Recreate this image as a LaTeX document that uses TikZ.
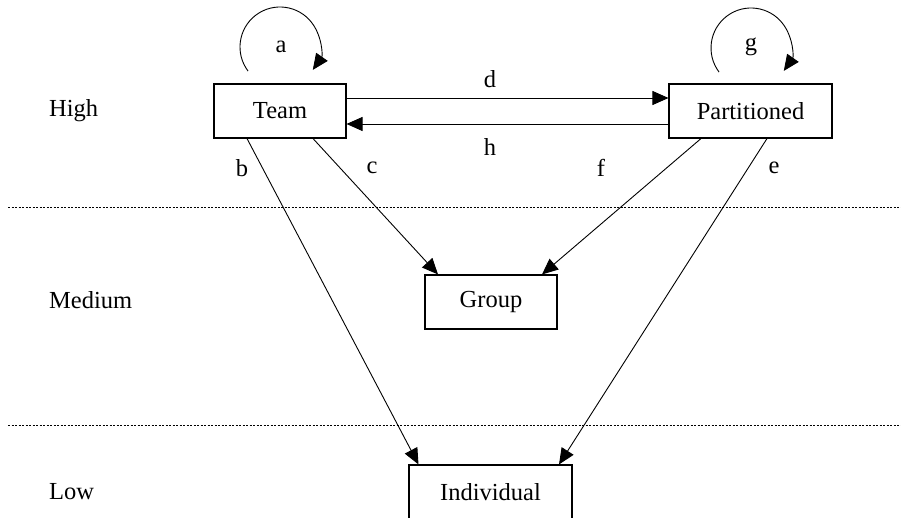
\documentclass[tikz,border=0pt]{standalone}
\usepackage{fontspec}
\setmainfont{Liberation Serif}
\usetikzlibrary{arrows.meta}

\begin{document}
\begin{tikzpicture}[x=1pt, y=1pt,
    font=\fontsize{24.5}{28}\selectfont,
    box/.style={draw, line width=1.1pt, minimum height=54pt, inner sep=0pt},
    arr/.style={line width=0.9pt, -{Triangle[length=16pt, width=14pt]}},
    level/.style={draw, line width=1pt, dash pattern=on 2pt off 1.5pt}]
    \useasboundingbox (0,0) rectangle (901,517);
    % levels
    \draw[level] (8,309) -- (901,309);
    \draw[level] (8,92) -- (901,92);
    \node[anchor=west, inner xsep=0pt] (high) at (49,406) {High};
    \node[anchor=west, inner xsep=0pt] (medium) at (49,217) {Medium};
    \node[anchor=west, inner xsep=0pt] (low) at (49,25) {Low};
    % boxes
    \node[box, minimum width=132pt] (team) at (280,406) {Team};
    \node[box, minimum width=163pt] (part) at (750.5,406) {Partitioned};
    \node[box, minimum width=132pt] (group) at (491,215) {Group};
    \node[box, minimum width=163pt] (indiv) at (490.5,25) {Individual};
    % loops
    \node (la) at (281,470) {a};
    \node (lg) at (751,470) {g};
    \draw[arr] ([shift={(217:40pt)}]280,470) arc[start angle=217, end angle=-35, radius=40pt];
    \draw[arr] ([shift={(217:40pt)}]751,469) arc[start angle=217, end angle=-35, radius=40pt];
    % connectors
    \draw[arr] ([yshift=13pt]team.east) -- ([yshift=13pt]part.west);
    \draw[arr] ([yshift=-13pt]part.west) -- ([yshift=-13pt]team.east);
    \draw[arr] ([xshift=-33pt]team.south) -- ([xshift=-72pt]indiv.north);
    \draw[arr] ([xshift=33pt]team.south) -- ([xshift=-53pt]group.north);
    \draw[arr] ([xshift=-49.5pt]part.south) -- ([xshift=51pt]group.north);
    \draw[arr] ([xshift=16.5pt]part.south) -- ([xshift=68.5pt]indiv.north);
    \node (ld) at (490,438) {d};
    \node (lh) at (490,370) {h};
    \node (lb) at (242,349) {b};
    \node (lc) at (372,349) {c};
    \node (lf) at (601,349) {f};
    \node (le) at (774,349) {e};
\end{tikzpicture}
\end{document}
